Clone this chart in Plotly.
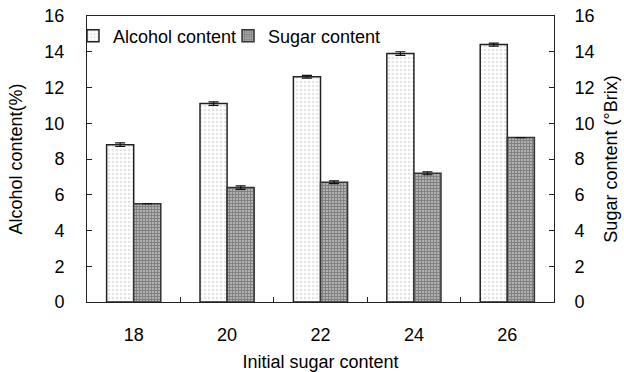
import plotly.graph_objects as go

# Initial sugar content (°Brix) of each must
initial_sugar = ["18", "20", "22", "24", "26"]

# Final alcohol content (%) and residual sugar content (°Brix)
alcohol = [8.8, 11.1, 12.6, 13.9, 14.4]
alcohol_err = [0.1, 0.1, 0.08, 0.1, 0.08]
sugar = [5.5, 6.4, 6.7, 7.2, 9.2]
sugar_err = [0.0, 0.1, 0.08, 0.08, 0.0]

font_family = "Liberation Sans, Arial, sans-serif"
axis_color = "#222222"
fs = 18

fig = go.Figure()

fig.add_trace(go.Bar(
    x=initial_sugar, y=alcohol, name="Alcohol content",
    error_y=dict(type="data", array=alcohol_err, color="#111111", thickness=1.2, width=5),
    marker=dict(
        color="white",
        line=dict(color="#222222", width=1.5),
        pattern=dict(shape=".", fgcolor="#c8c8c8", bgcolor="white", size=4, solidity=0.35),
    ),
    yaxis="y", offsetgroup="a", legend="legend",
))

fig.add_trace(go.Bar(
    x=initial_sugar, y=sugar, name="Sugar content",
    error_y=dict(type="data", array=sugar_err, color="#111111", thickness=1.2, width=5),
    marker=dict(
        color="#444444",
        line=dict(color="#333333", width=1.5),
        pattern=dict(shape="+", fgcolor="#333333", bgcolor="#cfcfcf", size=3, solidity=0.7),
    ),
    yaxis="y", offsetgroup="b", legend="legend2",
))

# Invisible trace to render the secondary (right) axis
fig.add_trace(go.Scatter(x=initial_sugar, y=[None] * len(initial_sugar), yaxis="y2",
                         showlegend=False, hoverinfo="skip"))

yaxis_common = dict(
    range=[0, 16], dtick=2, ticks="inside", ticklen=5, tickcolor=axis_color,
    showgrid=False, zeroline=False, showline=True, linecolor=axis_color, linewidth=1,
    tickfont=dict(size=fs, color="black", family=font_family),
    automargin=False,
)

legend_common = dict(
    orientation="h", yanchor="top", xanchor="left", y=0.995,
    font=dict(size=fs), bgcolor="rgba(0,0,0,0)", itemwidth=30,
)

fig.update_layout(
    width=624, height=372,
    margin=dict(l=87, r=70, t=16, b=70),
    paper_bgcolor="white", plot_bgcolor="white",
    font=dict(family=font_family, size=fs, color="black"),
    barmode="group", bargap=0.42, bargroupgap=0,
    showlegend=True,
    legend=dict(**legend_common, x=-0.03),
    legend2=dict(**legend_common, x=0.302),
    xaxis=dict(
        type="category", ticks="inside", tickson="boundaries", ticklen=5,
        tickcolor=axis_color, showline=True, mirror=True, linecolor=axis_color,
        showgrid=False, tickfont=dict(size=fs), ticklabelstandoff=16,
        automargin=False,
        title=dict(text="Initial sugar content", font=dict(size=fs), standoff=12),
    ),
    yaxis=dict(
        **yaxis_common, ticklabelstandoff=18,
        title=dict(text="Alcohol content(%)", font=dict(size=fs), standoff=17),
    ),
    yaxis2=dict(
        **yaxis_common, ticklabelstandoff=16,
        overlaying="y", side="right",
        title=dict(text="Sugar content (°Brix)", font=dict(size=fs), standoff=10),
    ),
)

fig.write_html("out.html")
